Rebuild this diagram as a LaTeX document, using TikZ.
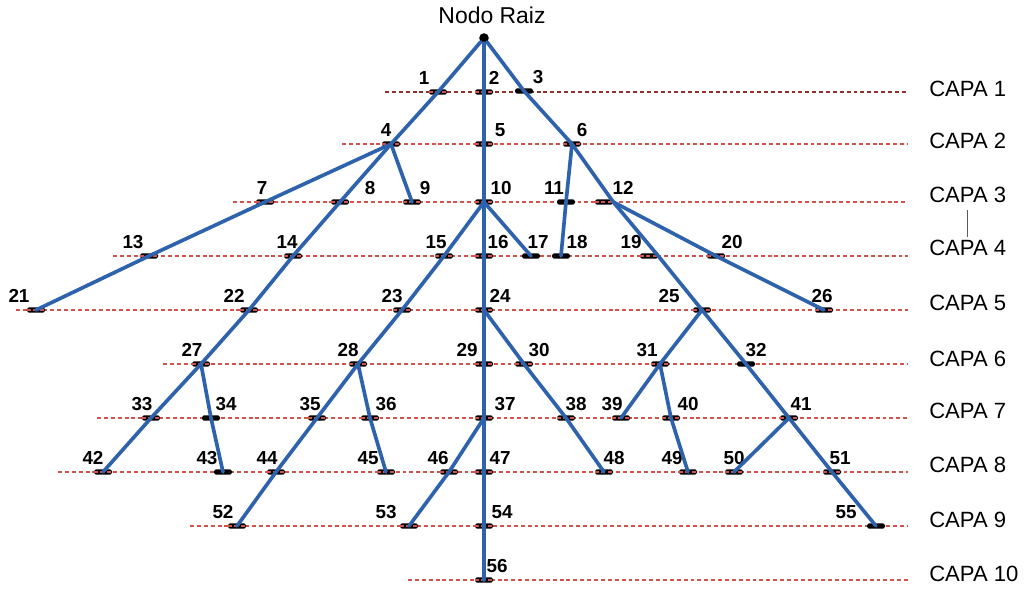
\documentclass[tikz,border=0pt]{standalone}
\usepackage{fontspec}
\setmainfont{Liberation Sans}
\usepackage{xcolor}
\usetikzlibrary{calc}
\definecolor{ramaazul}{HTML}{2E62AC}
\definecolor{capaosc}{HTML}{8E302B}
\definecolor{caparoja}{HTML}{D0534C}

\begin{document}
\begin{tikzpicture}[x=0.025cm, y=-0.025cm,
 marca/.style={fill=black, rounded corners=1.2pt, minimum width=0.45cm, minimum height=0.13cm, inner sep=0pt},
 roja/.style={marca, path picture={\draw[caparoja, line width=1.3pt, dash pattern=on 2.6pt off 2pt]
   (path picture bounding box.west) -- (path picture bounding box.east);}},
 negra/.style={marca},
 num/.style={font=\fontsize{13.4}{15}\selectfont\bfseries, inner sep=0pt},
 capa/.style={font=\fontsize{15.7}{18}\selectfont, inner sep=0pt, anchor=west},
 nivel/.style={line width=1.3pt, dash pattern=on 2.8pt off 2.1pt},
 rama/.style={ramaazul, line width=2.6pt, line join=round, line cap=round}]
\useasboundingbox (0,0) rectangle (1025,590);

\foreach \c/\y/\xi/\yl/\col in {1/92/385/89/capaosc, 2/144/342/141/caparoja, 3/202/233/195/caparoja,
  4/256/113/248/caparoja, 5/310/16/303/caparoja, 6/364/163/359/caparoja, 7/418/97/411/caparoja,
  8/472/58/465/caparoja, 9/526/190/520/caparoja, 10/580/408/574/caparoja}
 {\coordinate (ini\c) at (\xi,\y);
  \coordinate (fin\c) at (908,\y);
  \node[capa] (c\c) at (929,\yl) {CAPA \c};
  \draw[nivel, \col] (ini\c) -- (fin\c);}
\draw[gray!70!black, thin, shorten <=5pt, shorten >=2pt] (c3.south) -- (c4.north);

\node[circle, fill=black, minimum size=0.24cm, inner sep=0pt] (raiz) at (484,38) {};
\node[font=\fontsize{16.3}{18}\selectfont, inner sep=0pt] (titulo) at (492,15) {Nodo Raiz};

\foreach \n/\x/\y/\dx/\s in {1/438/92/-14/roja, 2/484/92/10/roja, 3/524/91/14/negra,
  4/391/144/-5/roja, 5/484/144/16/roja, 6/572/144/10/roja,
  7/265/202/-3/roja, 8/340/202/30/roja, 9/412/202/13/roja, 10/484/202/17/roja, 11/566/202/-12/negra, 12/604/202/19/roja,
  13/149/256/-16/roja, 14/293/256/-6/roja, 15/444/256/-8/roja, 16/484/256/14/roja, 17/531/256/7/negra,
  18/561/256/16/negra, 19/649/256/-18/roja, 20/716/256/16/roja,
  21/36/310/-17/roja, 22/249/310/-15/roja, 23/402/310/-10/roja, 24/484/310/16/roja, 25/702/310/-33/roja, 26/824/310/-2/roja,
  27/201/364/-9/roja, 28/358/364/-10/roja, 29/484/364/-17/roja, 30/524/364/15/roja, 31/660/364/-13/roja, 32/746/364/10/negra,
  33/151/418/-9/roja, 34/211/418/15/negra, 35/317/418/-7/roja, 36/370/418/16/roja, 37/484/418/21/roja,
  38/566/418/10/roja, 39/621/418/-9/roja, 40/671/418/17/roja, 41/789/418/12/roja,
  42/103/472/-10/roja, 43/223/472/-16/negra, 44/276/472/-9/roja, 45/386/472/-18/roja, 46/449/472/-11/roja,
  47/484/472/16/roja, 48/604/472/10/roja, 49/688/472/-16/roja, 50/734/472/0/roja, 51/832/472/8/roja,
  52/237/526/-14/roja, 53/409/526/-23/roja, 54/484/526/18/roja, 55/876/526/-30/negra,
  56/484/580/13/roja}
 {\node[\s] (n\n) at (\x,\y) {};
  \node[num] (l\n) at ($(n\n.center)+(\dx,-14)$) {\n};}

\draw[rama] (raiz) -- (n1.center) -- (n4.center) -- (n7.center) -- (n13.center) -- (n21.center);
\draw[rama] (n4.center) -- (n8.center) -- (n14.center) -- (n22.center) -- (n27.center) -- (n33.center) -- (n42.center);
\draw[rama] (n4.center) -- (n9.center);
\draw[rama] (raiz) -- (n2.center) -- (n5.center) -- (n10.center) -- (n16.center) -- (n24.center) -- (n29.center)
  -- (n37.center) -- (n47.center) -- (n54.center) -- (n56.center);
\draw[rama] (n10.center) -- (n15.center) -- (n23.center) -- (n28.center) -- (n35.center) -- (n44.center) -- (n52.center);
\draw[rama] (n10.center) -- (n17.center);
\draw[rama] (raiz) -- (n3.center) -- (n6.center) -- (n12.east) -- (n19.east) -- (n25.center) -- (n32.center)
  -- (n41.center) -- (n51.center) -- (n55.center);
\draw[rama] (n6.center) -- (n11.center) -- (n18.center);
\draw[rama] (n12.east) -- (n20.center) -- (n26.center);
\draw[rama] (n25.center) -- (n31.center) -- (n39.center);
\draw[rama] (n31.center) -- (n40.center) -- (n49.center);
\draw[rama] (n41.center) -- (n50.center);
\draw[rama] (n24.center) -- (n30.center) -- (n38.center) -- (n48.center);
\draw[rama] (n28.center) -- (n36.center) -- (n45.center);
\draw[rama] (n27.center) -- (n34.center) -- (n43.center);
\draw[rama] (n37.center) -- (n46.center) -- (n53.center);

\end{tikzpicture}
\end{document}
